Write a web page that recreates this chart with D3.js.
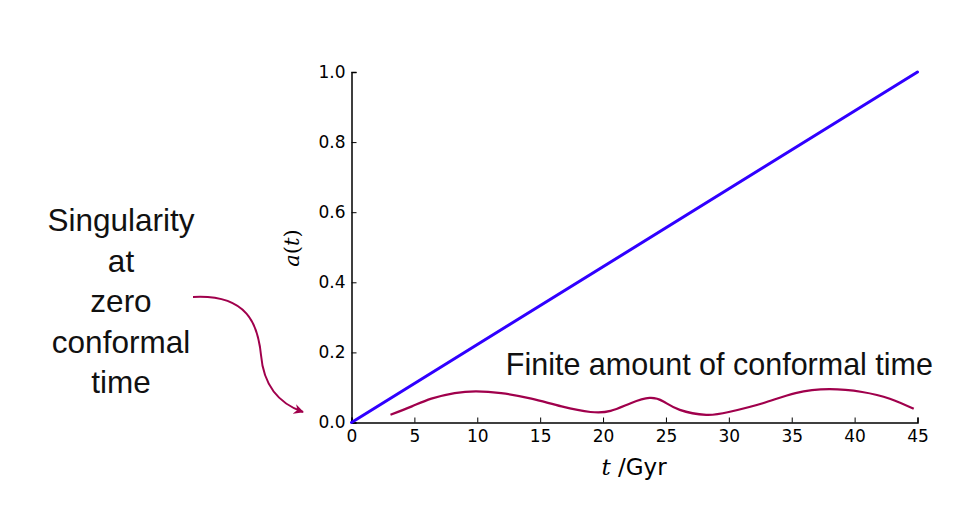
<!DOCTYPE html>
<html>
<head>
<meta charset="utf-8">
<script src="https://cdn.jsdelivr.net/npm/d3@7"></script>
<style>
  body { margin: 0; background: #fff; }
  svg { display: block; }
</style>
</head>
<body>
<div id="chart"></div>
<script>
/* global d3 */

// scale factor a(t): straight line
var lineT = [0, 45],
lineA = [0, 1.0];

// wiggly conformal-time curve
var curveT = [3.1, 4.8, 6.35, 8.2, 9.9, 11.9, 14.3, 16.7, 19.0, 20.6, 22.2, 23.7, 24.8, 26.1, 28.2, 30.0, 32.7, 35.3, 38.0, 40.6, 42.8, 44.7],
curveA = [0.022, 0.046, 0.068, 0.084, 0.089, 0.084, 0.068, 0.046, 0.030, 0.033, 0.055, 0.070, 0.060, 0.036, 0.022, 0.030, 0.055, 0.084, 0.095, 0.087, 0.068, 0.039];

var xTicks = [0, 5, 10, 15, 20, 25, 30, 35, 40, 45],
yTicks = [0, 0.2, 0.4, 0.6, 0.8, 1.0];

var noteLines = ['Singularity', 'at', 'zero', 'conformal', 'time'],
curveNote = 'Finite amount of conformal time';

var w = 977,
h = 514,
blue = '#3000ff',
plum = '#a0004c';

var svg = d3.select('#chart').
append('svg').
attr('width', w).
attr('height', h);

var x = d3.scaleLinear().domain([0, 45]).range([351.5, 917.5]),
y = d3.scaleLinear().domain([0, 1]).range([422.5, 72]);

// axes: ticks point inward like the old matplotlib style
var xAxis = d3.axisBottom(x).tickValues(xTicks).tickSize(-5).tickPadding(7).
tickFormat(d3.format('d'));
var yAxis = d3.axisLeft(y).tickValues(yTicks).tickSize(-5).tickPadding(6).
tickFormat(d3.format('.1f'));

var gx = svg.append('g').
attr('transform', 'translate(0,' + y(0) + ')').
call(xAxis);
var gy = svg.append('g').
attr('transform', 'translate(' + x(0) + ',0)').
call(yAxis);

[gx, gy].forEach(function (g) {
  g.attr('font-size', null).attr('font-family', null);
  g.select('.domain').attr('stroke', '#000').attr('stroke-width', 1.5);
  g.selectAll('.tick line').attr('stroke', '#000').attr('stroke-width', 1);
  g.selectAll('.tick text').
  attr('fill', '#000').
  style('font-family', 'DejaVu Sans').
  style('font-size', '17px');
});

// the lines
var line = d3.line().
x(d => x(d[0])).
y(d => y(d[1]));

svg.append('path').
datum(d3.zip(lineT, lineA)).
attr('d', line).
attr('fill', 'none').
attr('stroke', blue).
attr('stroke-width', 3).
attr('stroke-linecap', 'round');

svg.append('path').
datum(d3.zip(curveT, curveA)).
attr('d', line.curve(d3.curveNatural)).
attr('fill', 'none').
attr('stroke', plum).
attr('stroke-width', 2.2);

// axis labels
var yl = svg.append('text').
attr('transform', 'translate(299,248) rotate(-90)').
attr('text-anchor', 'middle').
style('font-family', 'DejaVu Serif').
style('font-size', '21px');
yl.append('tspan').style('font-style', 'italic').text('a');
yl.append('tspan').text('(');
yl.append('tspan').style('font-style', 'italic').text('t');
yl.append('tspan').text(')');

var xl = svg.append('text').
attr('x', 634).
attr('y', 475).
attr('text-anchor', 'middle').
style('font-size', '23px');
xl.append('tspan').
style('font-family', 'DejaVu Serif').
style('font-style', 'italic').
text('t');
xl.append('tspan').
style('font-family', 'DejaVu Sans').
text(' /Gyr');

// annotations
svg.append('text').
attr('x', 933).
attr('y', 375).
attr('text-anchor', 'end').
style('font-family', 'Liberation Sans').
style('font-size', '30.5px').
attr('fill', '#111').
text(curveNote);

svg.append('g').
selectAll('text').
data(noteLines).
enter().
append('text').
attr('x', 121).
attr('y', (d, i) => 231 + i * 40.5).
attr('text-anchor', 'middle').
style('font-family', 'Liberation Sans').
style('font-size', '31.5px').
attr('fill', '#111').
text(d => d);

svg.append('defs').
append('marker').
attr('id', 'head').
attr('viewBox', '0 0 10 10').
attr('refX', 9).
attr('refY', 5).
attr('markerWidth', 5).
attr('markerHeight', 5).
attr('markerUnits', 'strokeWidth').
attr('orient', 'auto').
append('path').
attr('d', 'M0,0 L10,5 L0,10 L3,5 Z').
attr('fill', plum);

svg.append('path').
attr('d', 'M193,297 C248,294 258,325 261,355 C264,390 283,405 303,412').
attr('fill', 'none').
attr('stroke', plum).
attr('stroke-width', 2).
attr('marker-end', 'url(#head)');
</script>
</body>
</html>
